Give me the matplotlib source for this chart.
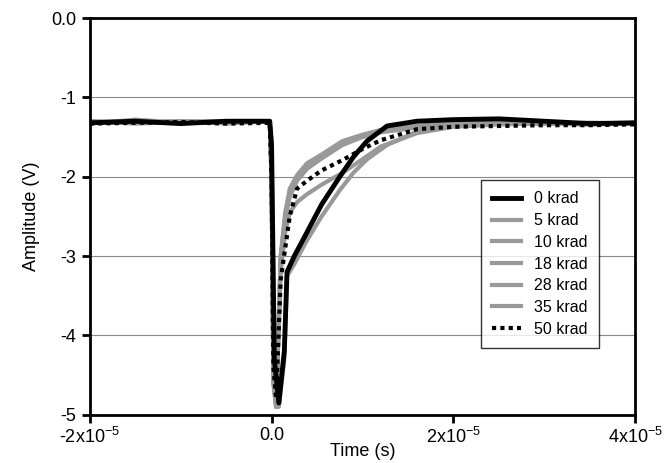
import matplotlib
matplotlib.use("Agg")
import matplotlib.pyplot as plt

plt.rcParams['font.family'] = ['Liberation Sans', 'DejaVu Sans']
plt.rcParams['mathtext.fontset'] = 'custom'
plt.rcParams['mathtext.rm'] = 'Liberation Sans'
plt.rcParams['mathtext.it'] = 'Liberation Sans'

labels = ["0 krad", "5 krad", "10 krad", "18 krad", "28 krad", "35 krad", "50 krad"]
# time in units of 1e-5 s
t_slow = [-2.0, -1.5, -1.0, -0.5, -0.02, 0.0, 0.03, 0.08, 0.14, 0.17, 0.25, 0.38, 0.55, 0.75, 0.9, 1.05, 1.27, 1.6, 2.0, 2.5, 3.0, 3.5, 4.0]
v0 = [-1.32, -1.30, -1.33, -1.30, -1.30, -1.6, -4.3, -4.85, -4.2, -3.2, -3.0, -2.72, -2.35, -2.0, -1.75, -1.55, -1.36, -1.30, -1.28, -1.27, -1.30, -1.33, -1.32]
v5 = [-1.33, -1.28, -1.32, -1.31, -1.30, -1.6, -4.4, -4.9, -4.3, -3.25, -3.1, -2.82, -2.5, -2.17, -1.95, -1.78, -1.60, -1.43, -1.33, -1.30, -1.33, -1.34, -1.33]
t_fast = [-2.0, -1.5, -1.0, -0.5, -0.02, 0.0, 0.02, 0.05, 0.1, 0.15, 0.2, 0.28, 0.39, 0.55, 0.78, 1.0, 1.2, 1.6, 2.0, 2.5, 3.0, 3.5, 4.0]
v10 = [-1.30, -1.32, -1.30, -1.33, -1.30, -2.0, -4.5, -4.9, -3.0, -2.45, -2.15, -1.98, -1.83, -1.72, -1.55, -1.47, -1.41, -1.36, -1.32, -1.31, -1.33, -1.32, -1.33]
v18 = [-1.31, -1.30, -1.32, -1.31, -1.30, -2.0, -4.6, -4.9, -3.1, -2.55, -2.25, -2.05, -1.90, -1.77, -1.60, -1.50, -1.44, -1.38, -1.33, -1.32, -1.33, -1.34, -1.32]
v28 = [-1.32, -1.31, -1.30, -1.30, -1.30, -2.0, -4.5, -4.85, -3.2, -2.7, -2.45, -2.32, -2.22, -2.1, -1.95, -1.78, -1.62, -1.45, -1.37, -1.34, -1.33, -1.33, -1.32]
v35 = [-1.30, -1.33, -1.31, -1.32, -1.30, -2.0, -4.6, -4.9, -3.0, -2.5, -2.2, -2.0, -1.86, -1.74, -1.57, -1.48, -1.42, -1.37, -1.33, -1.32, -1.33, -1.32, -1.33]
v50 = [-1.33, -1.32, -1.31, -1.33, -1.32, -2.0, -4.4, -4.8, -3.3, -2.9, -2.5, -2.15, -2.05, -1.92, -1.79, -1.65, -1.54, -1.40, -1.37, -1.36, -1.35, -1.35, -1.34]

fig = plt.figure(figsize=(6.7, 4.63), dpi=100)
ax = fig.add_axes([0.134, 0.104, 0.814, 0.857])
gray = "#999999"
sc = 1e-5
ax.plot([x*sc for x in t_slow], v0, color="black", lw=3.5, label=labels[0], zorder=5)
ax.plot([x*sc for x in t_slow], v5, color=gray, lw=3, label=labels[1])
ax.plot([x*sc for x in t_fast], v10, color=gray, lw=3, label=labels[2])
ax.plot([x*sc for x in t_fast], v18, color=gray, lw=3, label=labels[3])
ax.plot([x*sc for x in t_fast], v28, color=gray, lw=3, label=labels[4])
ax.plot([x*sc for x in t_fast], v35, color=gray, lw=3, label=labels[5])
ax.plot([x*sc for x in t_fast], v50, color="black", lw=3, ls=(0, (1, 1)), label=labels[6], zorder=6)

ax.set_xlim(-2e-5, 4e-5)
ax.set_ylim(-5, 0)
ax.set_xticks([-2e-5, 0, 2e-5, 4e-5])
ax.set_xticklabels(["-2x10$^{-5}$", "0.0", "2x10$^{-5}$", "4x10$^{-5}$"])
ax.set_yticks([0, -1, -2, -3, -4, -5])
ax.set_yticklabels(["0.0", "-1", "-2", "-3", "-4", "-5"])
ax.yaxis.grid(True, color="#888888", lw=0.8)
ax.set_axisbelow(True)
for s in ax.spines.values():
    s.set_linewidth(2)
ax.tick_params(labelsize=13, width=2, length=6, direction="out")
ax.tick_params(axis="x", pad=3)
ax.set_xlabel("Time (s)", fontsize=13, va="center")
ax.xaxis.set_label_coords(0.5, -0.093)
ax.set_ylabel("Amplitude (V)", fontsize=13, labelpad=8)
leg = ax.legend(loc="center right", bbox_to_anchor=(0.948, 0.38), fontsize=11.5,
                frameon=True, fancybox=False, edgecolor="black", handlelength=1.8,
                labelspacing=0.42, borderpad=0.7)
leg.get_frame().set_linewidth(1)
fig.savefig("out.png", dpi=100)
